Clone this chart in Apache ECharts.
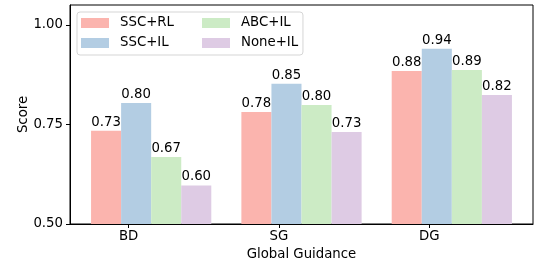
<!DOCTYPE html>
<html>
<head>
<meta charset="utf-8">
<script src="https://cdn.jsdelivr.net/npm/echarts@6/dist/echarts.min.js"></script>
<style>
  html, body { margin: 0; padding: 0; background: #fff; }
  #chart { width: 534px; height: 266px; }
</style>
</head>
<body>
<div id="chart"></div>
<script>
  // data
  const categories = ['BD', 'SG', 'DG']
  const seriesNames = ['SSC+RL', 'SSC+IL', 'ABC+IL', 'None+IL']
  const sscRL = [0.734, 0.781, 0.884]
  const sscIL = [0.804, 0.852, 0.940]
  const abcIL = [0.668, 0.799, 0.887]
  const noneIL = [0.597, 0.731, 0.824]
  const yTicks = [0.50, 0.75, 1.00]

  const colors = ['#fbb4ae', '#b3cde3', '#ccebc5', '#decbe4'] // Pastel1
  const font = 'DejaVu Sans'
  const fs = 13.3
  const groupShift = 0.15 // bar groups sit right of the tick

  const allValues = [sscRL, sscIL, abcIL, noneIL]

  const myChart = echarts.init(document.getElementById('chart'), null, { renderer: 'canvas' })

  const series = seriesNames.map((name, s) => ({
    name: name,
    type: 'bar',
    barWidth: 30.06,
    barGap: '0%',
    itemStyle: { color: colors[s] },
    label: {
      show: true,
      position: 'top',
      distance: 2,
      color: '#000',
      fontFamily: font,
      fontSize: fs,
      formatter: p => p.value[1].toFixed(2)
    },
    data: categories.map((c, i) => [i + groupShift, allValues[s][i]])
  }))

  // legend text sits a bit further from the swatch than echarts' default
  const legendText = {
    fontFamily: font,
    fontSize: fs,
    color: '#000',
    lineHeight: 16,
    rich: { t: { fontFamily: font, fontSize: fs, color: '#000', lineHeight: 16, padding: [0, 0, 0, 6] } }
  }
  const legendFmt = name => '{t|' + name + '}'

  myChart.setOption({
    animation: false,
    textStyle: { fontFamily: font },
    grid: {
      left: 70,
      right: 1,
      top: 5,
      bottom: 42,
      show: true,
      borderColor: '#000',
      borderWidth: 1
    },
    legend: [{
      // left column, its padding makes the frame wide enough for both columns
      data: ['SSC+RL', 'SSC+IL'],
      orient: 'vertical',
      left: 77,
      top: 12,
      padding: [3, 129, 4, 4],
      itemGap: 4,
      itemWidth: 28,
      itemHeight: 10,
      icon: 'rect',
      borderColor: '#d5d5d5',
      borderWidth: 1,
      borderRadius: 3,
      backgroundColor: 'rgba(255,255,255,0.8)',
      formatter: legendFmt,
      textStyle: legendText
    }, {
      data: ['ABC+IL', 'None+IL'],
      orient: 'vertical',
      left: 202,
      top: 15,
      padding: 0,
      itemGap: 4,
      itemWidth: 28,
      itemHeight: 10,
      icon: 'rect',
      z: 10,
      formatter: legendFmt,
      textStyle: legendText
    }],
    xAxis: {
      type: 'value',
      min: -0.39,
      max: 2.69,
      name: 'Global Guidance',
      nameLocation: 'middle',
      nameGap: 24,
      nameMoveOverlap: false,
      nameTextStyle: { fontFamily: font, fontSize: fs, color: '#000' },
      splitLine: { show: false },
      axisLine: { show: true, onZero: false, lineStyle: { color: '#000', width: 1 } },
      axisTick: { show: true, length: 4, customValues: [0, 1, 2], lineStyle: { color: '#000' } },
      axisLabel: {
        customValues: [0, 1, 2],
        margin: 6,
        color: '#000',
        fontFamily: font,
        fontSize: fs,
        formatter: v => categories[Math.round(v)]
      }
    },
    yAxis: {
      type: 'value',
      min: 0.5,
      max: 1.05,
      interval: 0.25,
      name: 'Score',
      nameLocation: 'middle',
      nameGap: 40,
      nameMoveOverlap: false,
      nameTextStyle: { fontFamily: font, fontSize: fs, color: '#000' },
      splitLine: { show: false },
      axisLine: { show: true, onZero: false, lineStyle: { color: '#000', width: 1 } },
      axisTick: { show: true, length: 4, customValues: yTicks, lineStyle: { color: '#000' } },
      axisLabel: {
        customValues: yTicks,
        margin: 7,
        color: '#000',
        fontFamily: font,
        fontSize: fs,
        formatter: v => v.toFixed(2)
      }
    },
    series: series
  })
</script>
</body>
</html>
